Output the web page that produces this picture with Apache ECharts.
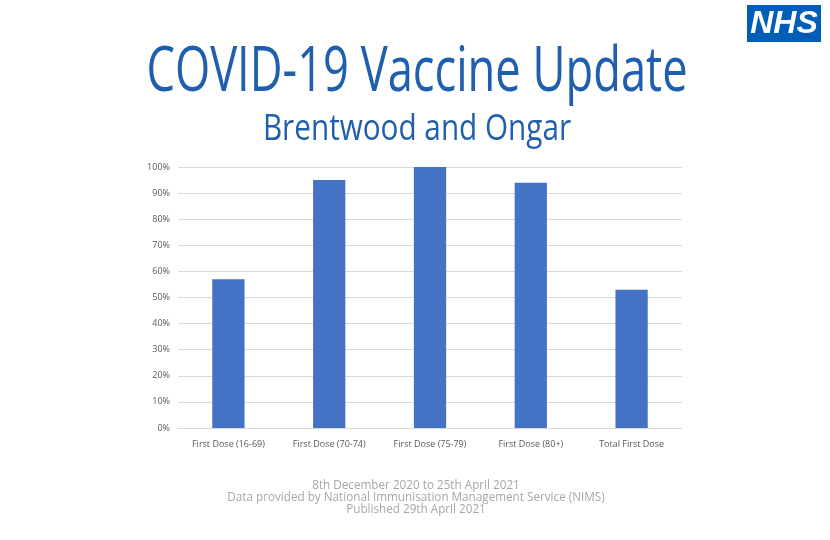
<!DOCTYPE html>
<html>
<head>
<meta charset="utf-8">
<script src="https://cdn.jsdelivr.net/npm/echarts@6/dist/echarts.min.js"></script>
<style>
html,body{margin:0;padding:0;background:#fff;}
#c{width:830px;height:540px;}
</style>
</head>
<body>
<div id="c"></div>
<script>
const categories = ['First Dose (16-69)', 'First Dose (70-74)', 'First Dose (75-79)', 'First Dose (80+)', 'Total First Dose'];
const values = [57, 95, 100, 94, 53];
const titleText = 'COVID-19 Vaccine Update';
const subtitleText = 'Brentwood and Ongar';
const footerLines = ['8th December 2020 to 25th April 2021', 'Data provided by National Immunisation Management Service (NIMS)', 'Published 29th April 2021'];

const chart = echarts.init(document.getElementById('c'), null, {renderer: 'canvas'});
const blue = '#1F5FAE';
chart.setOption({
  animation: false,
  backgroundColor: '#ffffff',
  grid: {left: 178, right: 148, top: 167, bottom: 112, containLabel: false},
  xAxis: {
    type: 'category',
    data: categories,
    axisLine: {lineStyle: {color: '#D9D9D9'}},
    axisTick: {show: false},
    axisLabel: {color: '#595959', fontSize: 9, fontFamily: 'Open Sans', margin: 12}
  },
  yAxis: {
    type: 'value',
    min: 0, max: 100, interval: 10,
    axisLine: {show: false},
    axisTick: {show: false},
    splitLine: {lineStyle: {color: '#D9D9D9'}},
    axisLabel: {color: '#595959', fontSize: 9, fontFamily: 'Open Sans', margin: 8, formatter: '{value}%'}
  },
  series: [{
    type: 'bar',
    data: values,
    barWidth: '32%',
    itemStyle: {color: '#4472C4'}
  }],
  graphic: [
    {type: 'text', x: 417, y: 73, scaleX: 0.73, style: {text: titleText, fill: blue, font: '62px "Open Sans"', align: 'center', verticalAlign: 'middle'}},
    {type: 'text', x: 417, y: 130, scaleX: 0.825, style: {text: subtitleText, fill: blue, font: '36px "Open Sans"', align: 'center', verticalAlign: 'middle'}},
    {type: 'group', x: 747, y: 5, children: [
      {type: 'rect', shape: {x: 0, y: 0, width: 74, height: 37}, style: {fill: '#005EB8'}},
      {type: 'text', x: 37, y: 19, style: {text: 'NHS', fill: '#ffffff', font: 'italic bold 32px "Liberation Sans"', align: 'center', verticalAlign: 'middle'}}
    ]},
    {type: 'text', x: 416, y: 480, scaleX: 0.975, style: {text: footerLines.join('\n'), fill: '#A6A6A6', font: '12px "Open Sans"', align: 'center', lineHeight: 12}}
  ]
});
</script>
</body>
</html>
